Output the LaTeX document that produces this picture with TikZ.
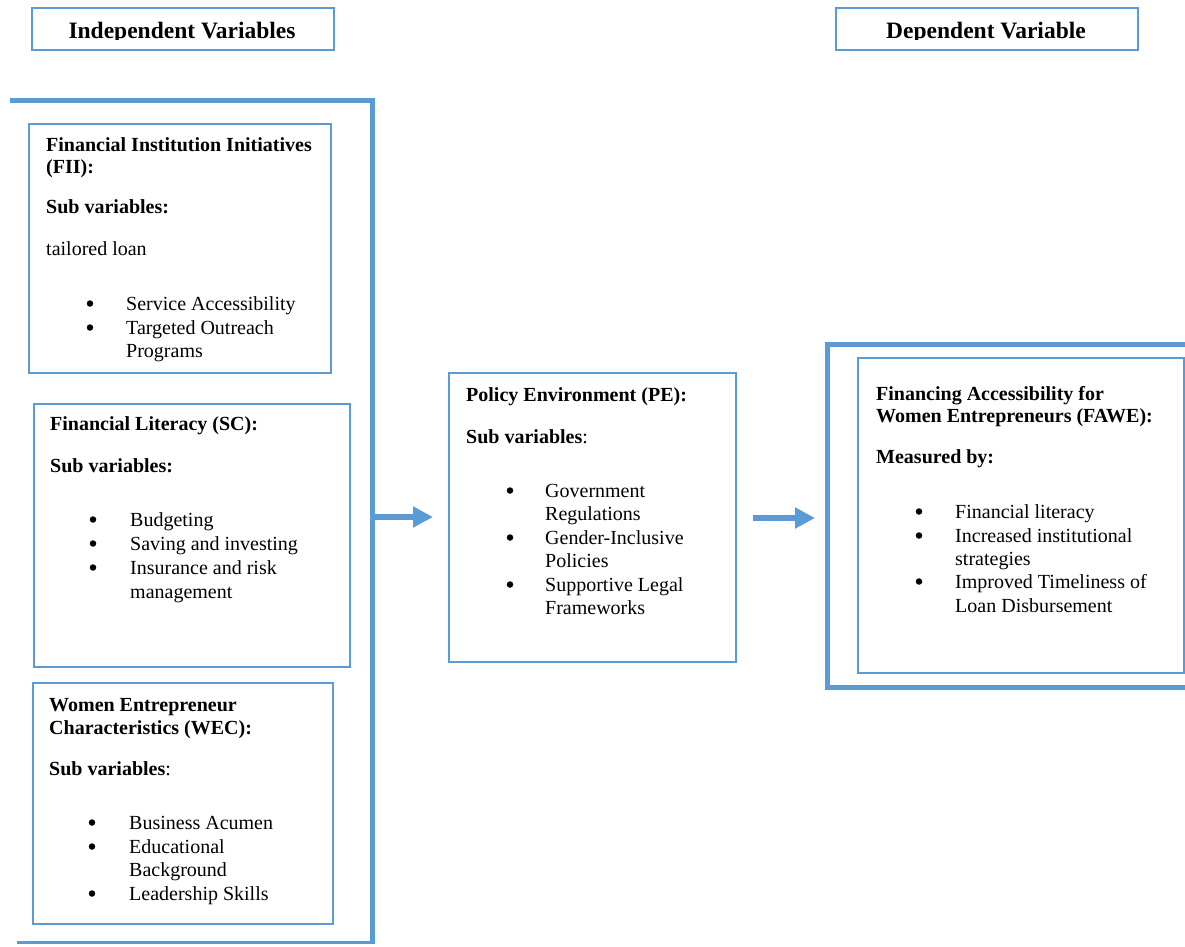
\documentclass[tikz,border=0pt]{standalone}
\usepackage{fontspec}
\setmainfont{Liberation Serif}
\usetikzlibrary{arrows.meta}
\definecolor{bl}{HTML}{5B9BD5}
\begin{document}
\begin{tikzpicture}[x=1pt,y=-1pt,
  box/.style={draw=bl, line width=2pt, inner sep=0pt, anchor=north west},
  tx/.style={anchor=base west, inner sep=0pt, font=\fontsize{20}{23}\selectfont},
  bul/.style={circle, fill=black, inner sep=0pt, minimum size=6.5pt, yshift=6.5pt},
  hd/.style={anchor=base, inner sep=0pt, font=\fontsize{23.5}{26}\selectfont\bfseries},
  arr/.style={draw=bl, line width=6pt, -{Triangle[length=20pt,width=20pt]}}]
\useasboundingbox (0,0) rectangle (1185,946);
\fill[white] (0,0) rectangle (1185,946);

% headers
\node[box, minimum width=302, minimum height=42] (hind) at (31,7) {};
\node[box, minimum width=302, minimum height=42] (hdep) at (835,7) {};
\begin{scope}
\clip (31,7) rectangle (333,39.5);
\node[hd] (tind) at (182,38) {Independent Variables};
\end{scope}
\begin{scope}
\clip (835,7) rectangle (1137,39.5);
\node[hd] (tdep) at (986,38) {Dependent Variable};
\end{scope}

% big bracket
\draw[bl, line width=5pt] (10,100) -| (372,944);
\draw[bl, line width=3pt] (17,942.5) -- (374.5,942.5);
\coordinate (br) at (372,517);

% FII box
\node[box, minimum width=302, minimum height=249] (fii) at (28,123) {};
\node[tx] (f1) at (46,151) {\bfseries Financial Institution Initiatives};
\node[tx] (f2) at (46,173) {\bfseries (FII):};
\node[tx] (f3) at (46,213) {\bfseries Sub variables:};
\node[tx] (f4) at (46,255) {tailored loan};
\node[bul] (fb1) at (90,310) {};
\node[tx] (f5) at (126,310) {Service Accessibility};
\node[bul] (fb2) at (90,334) {};
\node[tx] (f6) at (126,334) {Targeted Outreach};
\node[tx] (f7) at (126,357) {Programs};

% Financial literacy box
\node[box, minimum width=316, minimum height=263] (fl) at (33,403) {};
\node[tx] (l1) at (50,430) {\bfseries Financial Literacy (SC):};
\node[tx] (l2) at (50,472) {\bfseries Sub variables:};
\node[bul] (lb1) at (93,526) {};
\node[tx] (l3) at (130,526) {Budgeting};
\node[bul] (lb2) at (93,550) {};
\node[tx] (l4) at (130,550) {Saving and investing};
\node[bul] (lb3) at (93,574) {};
\node[tx] (l5) at (130,574) {Insurance and risk};
\node[tx] (l6) at (130,598) {management};

% WEC box
\node[box, minimum width=300, minimum height=241] (wec) at (32,682) {};
\node[tx] (w1) at (49,711) {\bfseries Women Entrepreneur};
\node[tx] (w2) at (49,734) {\bfseries Characteristics (WEC):};
\node[tx] (w3) at (49,775) {\textbf{Sub variables}:};
\node[bul] (wb1) at (92,829) {};
\node[tx] (w4) at (129,829) {Business Acumen};
\node[bul] (wb2) at (92,853) {};
\node[tx] (w5) at (129,853) {Educational};
\node[tx] (w6) at (129,876) {Background};
\node[bul] (wb3) at (92,900) {};
\node[tx] (w7) at (129,900) {Leadership Skills};

% PE box
\node[box, minimum width=287, minimum height=289] (pe) at (448,372) {};
\node[tx] (p1) at (466,401) {\bfseries Policy Environment (PE):};
\node[tx] (p2) at (466,443) {\textbf{Sub variables}:};
\node[bul] (pb1) at (510,497) {};
\node[tx] (p3) at (545,497) {Government};
\node[tx] (p4) at (545,520) {Regulations};
\node[bul] (pb2) at (510,544) {};
\node[tx] (p5) at (545,544) {Gender-Inclusive};
\node[tx] (p6) at (545,567) {Policies};
\node[bul] (pb3) at (510,591) {};
\node[tx] (p7) at (545,591) {Supportive Legal};
\node[tx] (p8) at (545,614) {Frameworks};

% FAWE frame and box
\draw[bl, line width=5pt] (1185,344) -| (827,687) -- (1185,687);
\node[box, minimum width=326, minimum height=315] (fawe) at (857,357) {};
\node[tx] (d1) at (876,400) {\bfseries Financing Accessibility for};
\node[tx] (d2) at (876,422) {\bfseries Women Entrepreneurs (FAWE):};
\node[tx] (d3) at (876,463) {\bfseries Measured by:};
\node[bul] (db1) at (919,518) {};
\node[tx] (d4) at (955,518) {Financial literacy};
\node[bul] (db2) at (919,542) {};
\node[tx] (d5) at (955,542) {Increased institutional};
\node[tx] (d6) at (955,565) {strategies};
\node[bul] (db3) at (919,588) {};
\node[tx] (d7) at (955,588) {Improved Timeliness of};
\node[tx] (d8) at (955,612) {Loan Disbursement};

% arrows
\coordinate (a1) at (433,517);
\coordinate (a2s) at (753,518);
\coordinate (a2) at (815,518);
\draw[arr] (br) -- (a1);
\draw[arr] (a2s) -- (a2);
\end{tikzpicture}
\end{document}
